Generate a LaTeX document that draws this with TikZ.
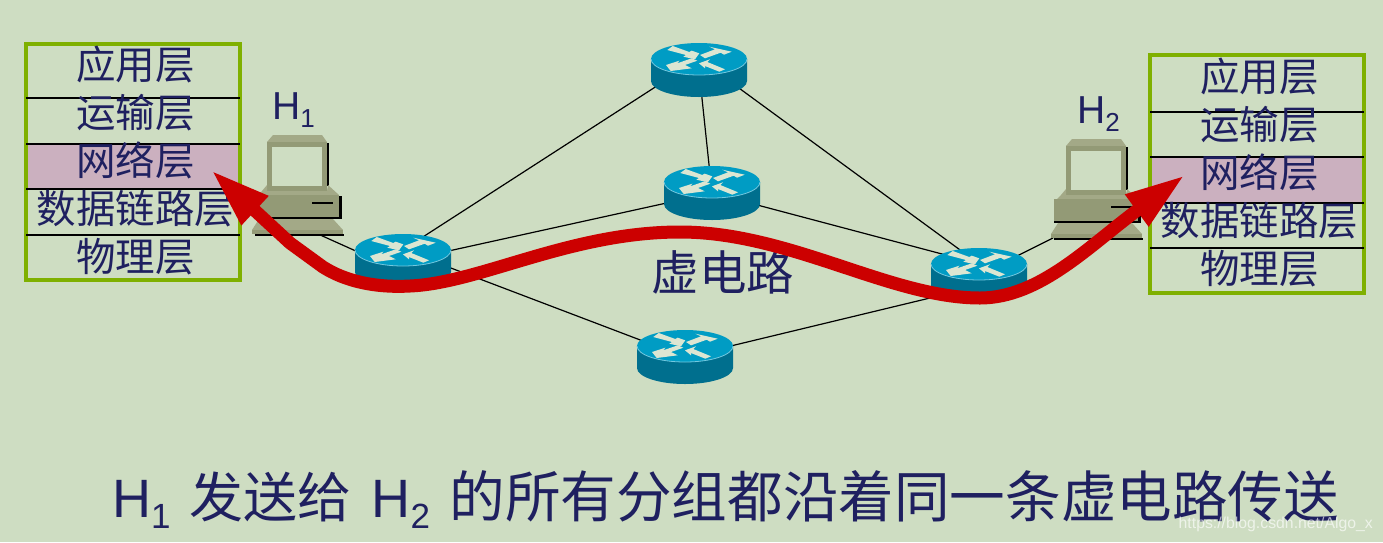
\documentclass[tikz,border=0pt]{standalone}
\usepackage{fontspec}
\setmainfont{Liberation Sans}
\newfontfamily\cjk{Noto Sans CJK SC}
\usetikzlibrary{arrows.meta}
\definecolor{bgc}{HTML}{CEDDC2}
\definecolor{navy}{HTML}{1F2060}
\definecolor{stackc}{HTML}{7FB000}
\definecolor{pinkc}{HTML}{CBB0BF}
\definecolor{pathc}{HTML}{CC0000}
\definecolor{rtop}{HTML}{009CC4}
\definecolor{rside}{HTML}{006F8E}
\definecolor{rarrow}{HTML}{DCE6D2}
\definecolor{pcc}{HTML}{939A76}
\definecolor{pcl}{HTML}{A3A987}
\newcommand{\fsz}[1]{\fontsize{#1}{#1}\selectfont}
\tikzset{
  layertxt/.style={text=navy,font=\cjk\fsz{39.5},inner sep=0pt},
  hosttxt/.style={text=navy,font=\fsz{39},inner sep=0pt},
  rnode/.style={minimum width=96pt,minimum height=22pt,inner sep=0pt},
  link/.style={draw=black,line width=1.2pt},
  router/.pic={
    \fill[rside] (-48,-11) -- (-48,11) arc[x radius=48,y radius=16,start angle=180,end angle=0] -- (48,-11) -- cycle;
    \fill[rtop] (0,-11) ellipse[x radius=48,y radius=16];
    \draw[rtop!55!white,line width=0.8pt] (-48,-11) arc[x radius=48,y radius=16,start angle=180,end angle=0];
    \fill[rarrow] (-31.7,-20) -- (-26.3,-24) -- (-9.7,-18) -- (-7.3,-19.3) -- (0.3,-16.7) -- (-4,-10.7) -- (-15.7,-13.3) -- (-13,-15) -- cycle;
    \fill[rarrow] (32.7,-18.3) -- (10.3,-23.3) -- (16,-20.7) -- (1,-15) -- (6,-11.7) -- (21.7,-17.3) -- (25,-15.3) -- cycle;
    \fill[rarrow] (-33,-5) -- (-28.3,1) -- (-7.3,-1.7) -- (-14,-5) -- (-1.7,-9.3) -- (-7.3,-11.7) -- (-21.7,-6.7) -- (-19.7,-9.3) -- cycle;
    \fill[rarrow] (0,-6.7) -- (11,-10.7) -- (8.3,-8) -- (26,-0.7) -- (20.3,1.7) -- (6,-4) -- (6,-1.7) -- cycle;
  },
  pc/.pic={
    \fill[black] (327,143) rectangle (329,186);
    \fill[black] (339,196) rectangle (342,218);
    \fill[black] (255,217) rectangle (342,218.5);
    \fill[pcl] (267,142) -- (273,135) -- (322,135) -- (327,142) -- cycle;
    \fill[pcc] (267,142) rectangle (327,191);
    \fill[bgc] (272,147) rectangle (322,186);
    \fill[pcl] (255,198) -- (262,191) -- (267,185) -- (267,191) -- (327,191) -- (328,185) -- (339,195) -- cycle;
    \fill[pcc] (255,195) rectangle (339,217);
    \draw[black,line width=1.2pt] (312,203) -- (333,203);
    \fill[pcl] (259,219) -- (333,219) -- (343,230) -- (252,230) -- cycle;
    \fill[pcc] (252,230) rectangle (343,234);
    \fill[black] (255,234) rectangle (344,235.5);
  },
}
\begin{document}
\begin{tikzpicture}[x=1pt,y=-1pt]
\fill[bgc] (0,0) rectangle (1383,542);
\useasboundingbox (0,0) rectangle (1383,542);

\fill[pinkc] (26,144) rectangle (240,190);
\draw[stackc,line width=4pt] (26,44) rectangle (240,280);
\foreach \ly in {98,144,189,235}
  \draw[black,line width=1.2pt] (26,\ly) -- (240,\ly);
\node[layertxt] (appa) at (135.5,64.5) {应用层};
\node[layertxt] (trana) at (135.5,112.5) {运输层};
\node[layertxt] (neta) at (135.5,160.5) {网络层};
\node[layertxt] (linka) at (135.5,208.5) {数据链路层};
\node[layertxt] (phya) at (135.5,256.5) {物理层};

\fill[pinkc] (1150,157) rectangle (1364,203);
\draw[stackc,line width=4pt] (1150,55) rectangle (1364,293);
\foreach \ly in {112,157,203,248}
  \draw[black,line width=1.2pt] (1150,\ly) -- (1364,\ly);
\node[layertxt] (appb) at (1259.5,77) {应用层};
\node[layertxt] (tranb) at (1259.5,125) {运输层};
\node[layertxt] (netb) at (1259.5,172.5) {网络层};
\node[layertxt] (linkb) at (1259.5,220.5) {数据链路层};
\node[layertxt] (phyb) at (1259.5,268.5) {物理层};

\node[rnode] (rleft) at (403,261) {};
\node[rnode] (rup) at (699,70) {};
\node[rnode] (rmid) at (712,193) {};
\node[rnode] (rdown) at (685,357) {};
\node[rnode] (rright) at (979,275) {};
\coordinate (hosta) at (318,234);
\coordinate (hostb) at (1053,238);

\draw[link] (hosta) -- (rleft.south);
\draw[link] (hostb) -- (rright.center);
\draw[link] (rleft.north) -- (rup.north);
\draw[link] (rup.north) -- (rright.north);
\draw[link] (rup.center) -- (rmid.center);
\draw[link] (rleft.center) -- (rmid.center);
\draw[link] (rmid.center) -- (rright.north);
\draw[link] (rleft.north) -- (rdown.center);
\draw[link] (rdown.center) -- (rright.south);

\foreach \rn in {rleft,rup,rmid,rdown,rright}
  \pic at (\rn) {router};
\pic at (0,0) {pc};
\pic at (799,4) {pc};

\node[hosttxt,anchor=base west] (hnamea) at (272,119) {H\raisebox{-8pt}{\fsz{26}1}};
\node[hosttxt,anchor=base west] (hnameb) at (1077,123) {H\raisebox{-8pt}{\fsz{26}2}};
\node[text=navy,font=\cjk\fsz{47.5},inner sep=0pt] (vc) at (723,272) {虚电路};

\coordinate (tipa) at (211,170);
\coordinate (tipb) at (1185,175);
\draw[pathc,line width=13pt,{Triangle[length=60pt,width=36pt]}-{Triangle[length=60pt,width=36pt]}] (tipa) -- (290,243) -- (323,267)
  .. controls (345,281) and (375,288) .. (410,286)
  .. controls (480,283) and (570,232) .. (680,232)
  .. controls (790,232) and (890,298) .. (980,298)
  .. controls (1040,298) and (1090,245) .. (tipb);

\node[text=navy,font=\fsz{54},inner sep=0pt,anchor=base west] (note) at (112,517) {H\raisebox{-11pt}{\fsz{35}1}\hspace{19pt}{\cjk 发送给}\hspace{20pt}H\raisebox{-11pt}{\fsz{35}2}\hspace{7pt}{\cjk\fsz{55.6} 的所有分组都沿着同一条虚电路传送}};
\node[text=white,opacity=0.65,font=\fsz{15.8},inner sep=0pt,anchor=base east] (mark) at (1373,528) {https://blog.csdn.net/Algo\_x};
\end{tikzpicture}
\end{document}
